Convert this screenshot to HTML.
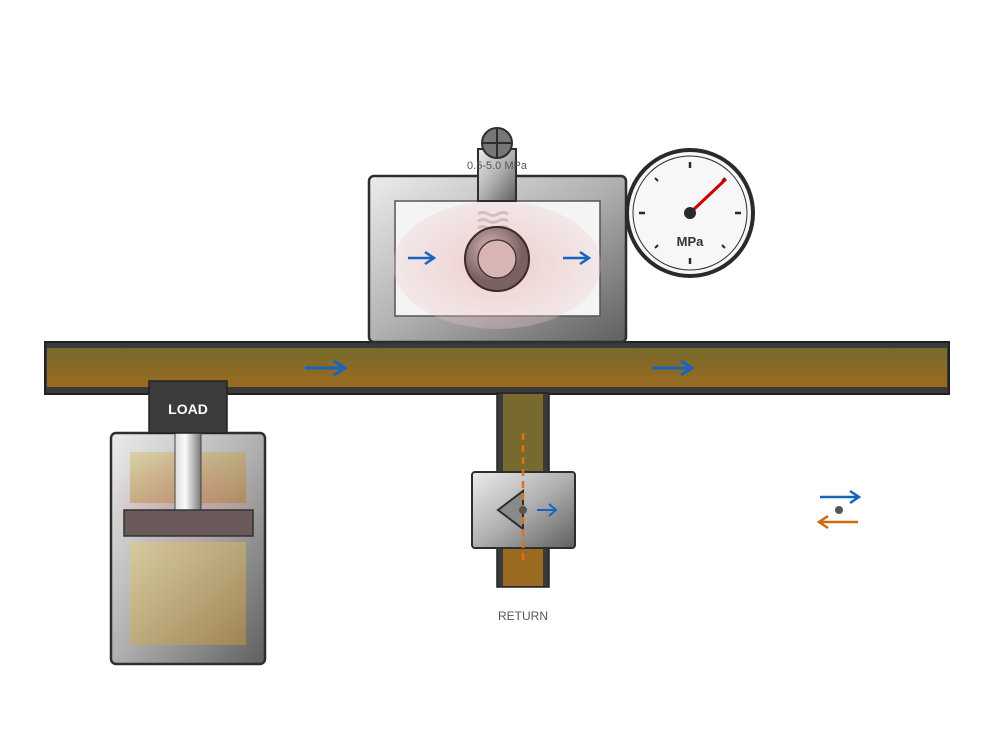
<!DOCTYPE html>
<html><head><style>html,body{margin:0;padding:0;background:#fff;}svg{display:block}</style></head>
<body>
<svg width="995" height="737" viewBox="0 0 995 737" xmlns="http://www.w3.org/2000/svg" font-family="Liberation Sans, sans-serif">
<defs>
<linearGradient id="metal" x1="0" y1="0" x2="1" y2="1"><stop offset="0" stop-color="#ececec"/><stop offset="0.5" stop-color="#b0b0b0"/><stop offset="1" stop-color="#5f5f5f"/></linearGradient>
<linearGradient id="oil" x1="0" y1="0" x2="0" y2="1"><stop offset="0" stop-color="#786a2e"/><stop offset="1" stop-color="#9a6b20"/></linearGradient>
<linearGradient id="oilv" x1="0" y1="0" x2="0" y2="1"><stop offset="0" stop-color="#786a2e"/><stop offset="1" stop-color="#9a6b20"/></linearGradient>
<linearGradient id="rod" x1="0" y1="0" x2="1" y2="0"><stop offset="0" stop-color="#ddd"/><stop offset="0.4" stop-color="#fafafa"/><stop offset="1" stop-color="#777"/></linearGradient>
<linearGradient id="tan" x1="0" y1="0" x2="1" y2="1"><stop offset="0" stop-color="#d8cc98"/><stop offset="1" stop-color="#a88850"/></linearGradient>
<radialGradient id="pink"><stop offset="0" stop-color="#e8b0b0" stop-opacity="0.6"/><stop offset="1" stop-color="#f0c8c8" stop-opacity="0.3"/></radialGradient>
<radialGradient id="ring" cx="0.4" cy="0.35"><stop offset="0" stop-color="#d8b8b8"/><stop offset="1" stop-color="#7a6060"/></radialGradient>
<radialGradient id="glow"><stop offset="0" stop-color="#e08080" stop-opacity="0.35"/><stop offset="1" stop-color="#e08080" stop-opacity="0"/></radialGradient>
</defs>
<!-- main pipe -->
<rect x="45" y="342" width="904" height="52" fill="#3a3a3a" stroke="#222" stroke-width="2"/>
<rect x="47" y="348" width="900" height="39" fill="url(#oil)"/>
<path d="M305 368H344M334 361L345 368L334 375" stroke="#1565c0" stroke-width="3" fill="none"/>
<path d="M652 368H691M681 361L692 368L681 375" stroke="#1565c0" stroke-width="3" fill="none"/>
<!-- valve -->
<rect x="369" y="176" width="257" height="166" rx="5" fill="url(#metal)" stroke="#2e2e2e" stroke-width="2.5"/>
<rect x="395" y="201" width="205" height="115" fill="#f4f4f4" stroke="#555" stroke-width="1.5"/>
<ellipse cx="497" cy="265" rx="104" ry="64" fill="url(#pink)"/>
<g fill="none" stroke="#c8b8b8" stroke-width="3" opacity="0.8">
<path d="M478 214q5-3 10 0t10 0t10 0"/><path d="M478 221q5-3 10 0t10 0t10 0"/><path d="M478 228q5-3 10 0t10 0t10 0"/>
</g>
<circle cx="497" cy="259" r="32" fill="url(#ring)" stroke="#3a2a2a" stroke-width="2"/>
<circle cx="497" cy="259" r="19" fill="#d8b4b4" stroke="#3a2a2a" stroke-width="1.2"/>
<path d="M408 258H433M425 252L434 258L425 264" stroke="#1565c0" stroke-width="2.5" fill="none"/>
<path d="M563 258H588M580 252L589 258L580 264" stroke="#1565c0" stroke-width="2.5" fill="none"/>
<rect x="478" y="149" width="38" height="52" fill="url(#metal)" stroke="#2e2e2e" stroke-width="2"/>
<circle cx="497" cy="143" r="15" fill="#777" stroke="#2e2e2e" stroke-width="2"/>
<path d="M482 143H512M497 128V158" stroke="#2e2e2e" stroke-width="2"/>
<text x="497" y="169" font-size="11" fill="#555" text-anchor="middle">0.5-5.0 MPa</text>
<!-- gauge -->
<circle cx="690" cy="213" r="63" fill="#f7f7f7" stroke="#2a2a2a" stroke-width="4"/>
<circle cx="690" cy="213" r="57" fill="none" stroke="#2a2a2a" stroke-width="1"/>
<g stroke="#2a2a2a" stroke-width="2.5">
<path d="M690 162v6M690 258v6M639 213h6M735 213h6"/>
<path d="M655 178l3 3M725 178l-3 3M655 248l3-3M725 248l-3-3" stroke-width="2"/>
</g>
<path d="M690 213L726 179" stroke="#cc0000" stroke-width="3"/>
<circle cx="690" cy="213" r="6" fill="#2a2a2a"/>
<text x="690" y="246" font-size="13" font-weight="bold" fill="#333" text-anchor="middle">MPa</text>
<!-- return branch -->
<rect x="497" y="393" width="52" height="194" fill="#3a3a3a" stroke="#222" stroke-width="1.5"/>
<rect x="503" y="394" width="40" height="80" fill="#786a2e"/>
<rect x="503" y="548" width="40" height="38" fill="#9a6b20"/>
<rect x="472" y="472" width="103" height="76" rx="3" fill="url(#metal)" stroke="#2e2e2e" stroke-width="2"/>
<polygon points="498,510 523,491 523,529" fill="#8a8a8a" stroke="#2e2e2e" stroke-width="2"/>
<line x1="523" y1="433" x2="523" y2="560" stroke="#e07010" stroke-width="2.5" stroke-dasharray="7,5"/>
<circle cx="523" cy="510" r="4" fill="#555"/>
<path d="M537 510H556M549 504L556 510L549 516" stroke="#1565c0" stroke-width="2" fill="none"/>
<text x="523" y="620" font-size="12" fill="#555" text-anchor="middle">RETURN</text>
<!-- cylinder -->
<rect x="111" y="433" width="154" height="231" rx="5" fill="url(#metal)" stroke="#2e2e2e" stroke-width="2.5"/>
<rect x="130" y="452" width="116" height="51" fill="url(#tan)" opacity="0.8"/>
<rect x="130" y="542" width="116" height="103" fill="url(#tan)" opacity="0.85"/>
<ellipse cx="188" cy="505" rx="80" ry="55" fill="url(#glow)"/>
<rect x="175" y="433" width="26" height="77" fill="url(#rod)" stroke="#444" stroke-width="1"/>
<rect x="124" y="510" width="129" height="26" fill="#6b5a5a" stroke="#333" stroke-width="1.5"/>
<rect x="149" y="381" width="78" height="52" fill="#3c3c3c" stroke="#222" stroke-width="1.5"/>
<text x="188" y="414" font-size="14" font-weight="bold" fill="#fff" text-anchor="middle">LOAD</text>
<!-- legend -->
<path d="M820 497H858M850 491L859 497L850 503" stroke="#1565c0" stroke-width="2.5" fill="none"/>
<circle cx="839" cy="510" r="4" fill="#555"/>
<path d="M858 522H820M828 516L819 522L828 528" stroke="#d06a10" stroke-width="2.5" fill="none"/>
</svg>
</body></html>
